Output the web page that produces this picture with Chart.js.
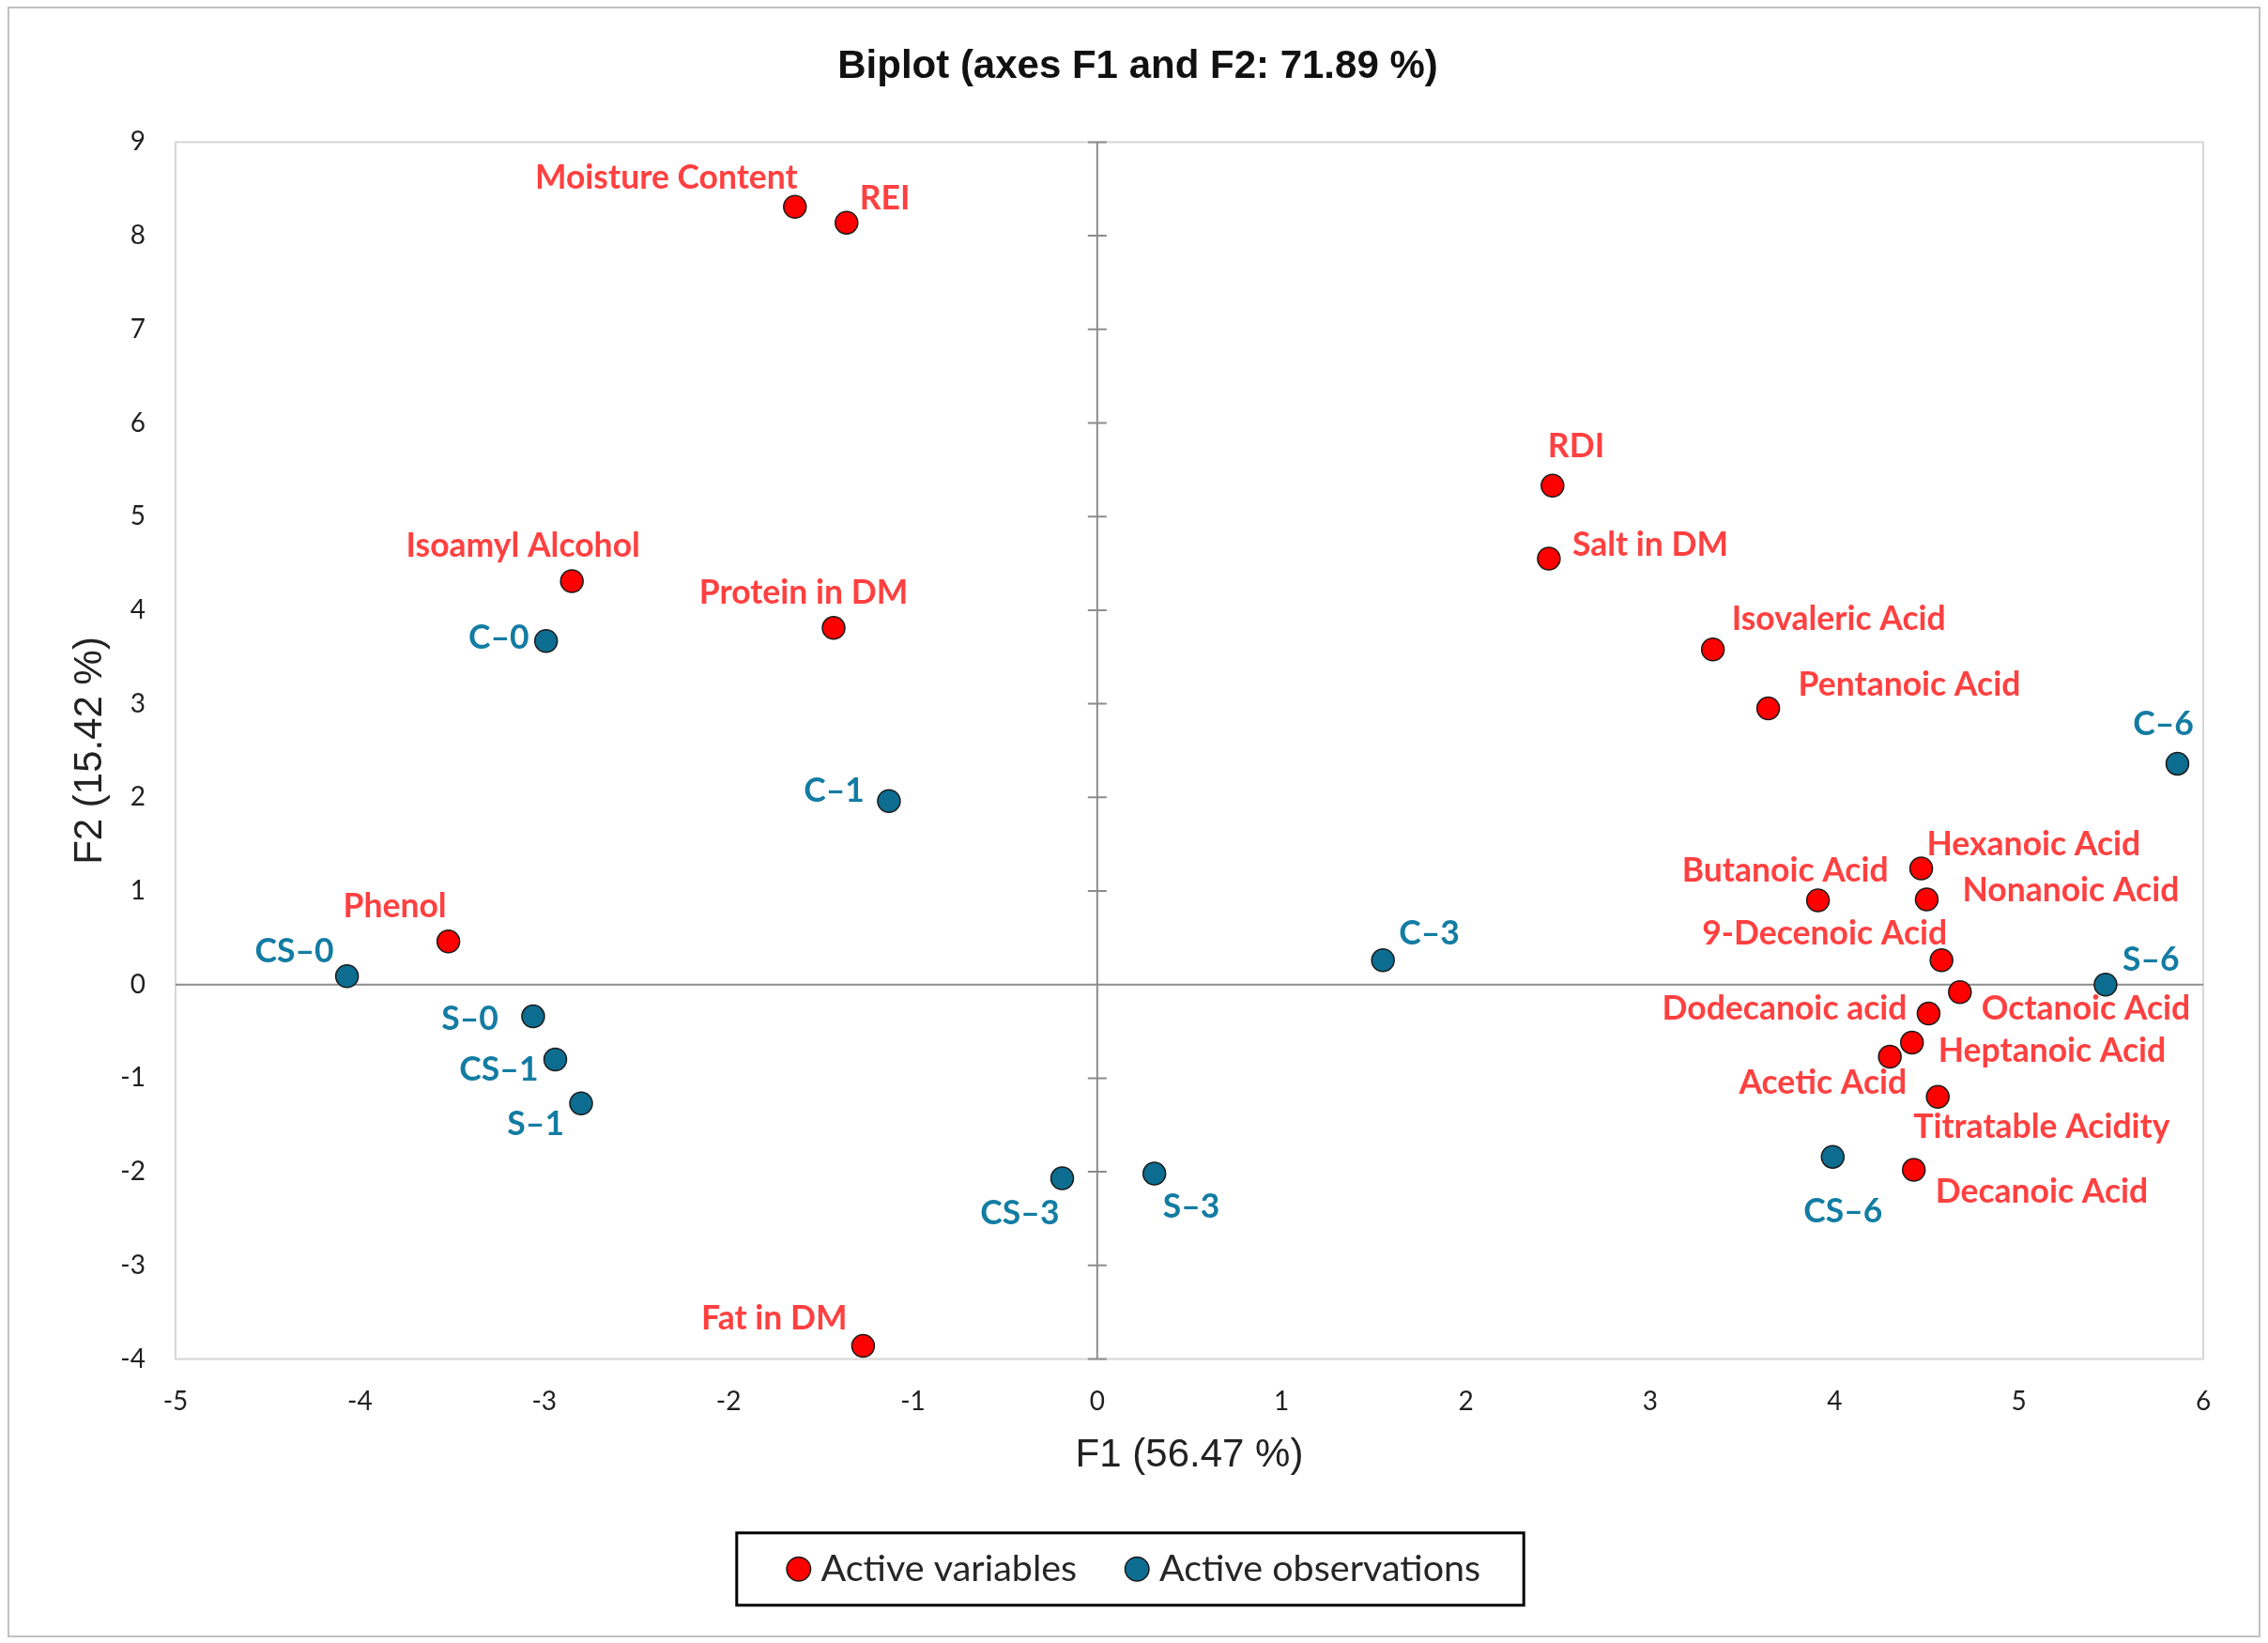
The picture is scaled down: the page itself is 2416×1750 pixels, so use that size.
<!DOCTYPE html>
<html><head><meta charset="utf-8">
<script src="https://cdn.jsdelivr.net/npm/chart.js@4.4.1/dist/chart.umd.min.js"></script>
<style>html,body{margin:0;padding:0;background:#fff;}#wrap{width:2416px;height:1750px;}</style>
</head><body><div id="wrap"><canvas id="c" width="2416" height="1750"></canvas></div>
<script>
// ---- data ----
const chartTitle = 'Biplot (axes F1 and F2: 71.89 %)';
const xAxisTitle = 'F1 (56.47 %)';
const yAxisTitle = 'F2 (15.42 %)';
const seriesNames = ['Active variables', 'Active observations'];
const xTickValues = [-5, -4, -3, -2, -1, 0, 1, 2, 3, 4, 5, 6];
const yTickValues = [-4, -3, -2, -1, 0, 1, 2, 3, 4, 5, 6, 7, 8, 9];

const variableNames = ['Moisture Content', 'REI', 'Isoamyl Alcohol', 'Protein in DM', 'Phenol', 'Fat in DM',
  'RDI', 'Salt in DM', 'Isovaleric Acid', 'Pentanoic Acid', 'Hexanoic Acid', 'Butanoic Acid', 'Nonanoic Acid',
  '9-Decenoic Acid', 'Octanoic Acid', 'Dodecanoic acid', 'Heptanoic Acid', 'Acetic Acid', 'Titratable Acidity', 'Decanoic Acid'];
const variableF1 = [-1.64, -1.36, -2.85, -1.43, -3.52, -1.27, 2.47, 2.45, 3.34, 3.64, 4.47, 3.91, 4.50, 4.58, 4.68, 4.51, 4.42, 4.30, 4.56, 4.43];
const variableF2 = [8.31, 8.14, 4.31, 3.81, 0.46, -3.86, 5.33, 4.55, 3.58, 2.95, 1.24, 0.90, 0.91, 0.26, -0.08, -0.31, -0.62, -0.77, -1.20, -1.98];

const observationNames = ['C\u20130', 'C\u20131', 'CS\u20130', 'S\u20130', 'CS\u20131', 'S\u20131', 'CS\u20133', 'S\u20133', 'C\u20133', 'CS\u20136', 'S\u20136', 'C\u20136'];
const observationF1 = [-2.99, -1.13, -4.07, -3.06, -2.94, -2.80, -0.19, 0.31, 1.55, 3.99, 5.47, 5.86];
const observationF2 = [3.67, 1.96, 0.09, -0.34, -0.80, -1.27, -2.07, -2.02, 0.26, -1.84, 0.00, 2.36];

// ---- label placement (style only: anchor, dx, dy in px) ----
const variableLabelPlacement = [
  ['right', 3, -31], ['left', 14, -26], ['center', -52, -37], ['center', -32, -37], ['center', -57, -37], ['right', -17, -29],
  ['left', -5, -42], ['left', 25, -15], ['left', 20, -32], ['left', 32, -25], ['left', 6, -26], ['right', 75, -31], ['left', 38, -9],
  ['right', 6, -28], ['left', 23, 18], ['right', -23, -5], ['left', 28, 9], ['right', 18, 28], ['left', -26, 32], ['left', 23, 23]
];
const observationLabelPlacement = [
  ['right', -18, -3], ['right', -26, -11], ['right', -14, -26], ['right', -37, 3], ['right', -18, 11], ['right', -18, 22],
  ['right', -3, 37], ['left', 9, 35], ['left', 17, -28], ['center', 11, 58], ['left', 18, -26], ['center', -15, -42]
];

const RED = '#FF0000', RED_TEXT = '#FF4040';
const BLUE = '#0C6D90', BLUE_TEXT = '#137CA2';
const LABEL_FONT = 'bold 35.5px Lato';

const frameAndBackground = {
  id: 'frameAndBackground',
  beforeDraw(chart) {
    const ctx = chart.ctx;
    ctx.save();
    ctx.fillStyle = '#fff';
    ctx.fillRect(0, 0, chart.width, chart.height);
    ctx.strokeStyle = '#C0C0C0';
    ctx.lineWidth = 2;
    ctx.strokeRect(9, 8, 2398, 1735);
    ctx.restore();
  },
  beforeDatasetsDraw(chart) {
    const {ctx, chartArea: a, scales: {x, y}} = chart;
    ctx.save();
    ctx.strokeStyle = '#D6D6D6';
    ctx.lineWidth = 2;
    ctx.strokeRect(a.left, a.top, a.right - a.left, a.bottom - a.top);
    const x0 = x.getPixelForValue(0), y0 = y.getPixelForValue(0);
    ctx.strokeStyle = '#8C8C8C';
    ctx.lineWidth = 2;
    ctx.beginPath();
    ctx.moveTo(x0, a.top); ctx.lineTo(x0, a.bottom);
    ctx.moveTo(a.left, y0); ctx.lineTo(a.right, y0);
    yTickValues.forEach(v => {
      const py = y.getPixelForValue(v);
      ctx.moveTo(x0 - 10, py); ctx.lineTo(x0 + 10, py);
    });
    ctx.stroke();
    ctx.restore();
  },
  afterDatasetsDraw(chart) {
    const ctx = chart.ctx;
    ctx.save();
    ctx.font = LABEL_FONT;
    ctx.textBaseline = 'middle';
    const sets = [[variableNames, variableLabelPlacement, RED_TEXT], [observationNames, observationLabelPlacement, BLUE_TEXT]];
    sets.forEach(([names, place, color], di) => {
      const meta = chart.getDatasetMeta(di);
      ctx.fillStyle = color;
      meta.data.forEach((pt, i) => {
        const [anchor, dx, dy] = place[i];
        ctx.textAlign = anchor === 'left' ? 'left' : anchor === 'right' ? 'right' : 'center';
        ctx.fillText(names[i], pt.x + dx, pt.y + dy);
      });
    });
    ctx.restore();
  },
  afterDraw(chart) {
    const lg = chart.legend;
    if (!lg || !lg.legendHitBoxes.length) return;
    const hb = lg.legendHitBoxes;
    const left = Math.min(...hb.map(h => h.left)) - 62;
    const right = Math.max(...hb.map(h => h.left + h.width)) + 46;
    const cy = hb[0].top + hb[0].height / 2;
    const ctx = chart.ctx;
    ctx.save();
    ctx.strokeStyle = '#000';
    ctx.lineWidth = 3;
    ctx.strokeRect(left, cy - 38.5, right - left, 77);
    ctx.restore();
  }
};

new Chart(document.getElementById('c'), {
  type: 'scatter',
  data: {
    datasets: [
      {
        label: seriesNames[0],
        data: variableF1.map((v, i) => ({x: v, y: variableF2[i]})),
        backgroundColor: RED, borderColor: '#1a1a1a',
        pointRadius: 12, pointHoverRadius: 12, pointBorderWidth: 1.5
      },
      {
        label: seriesNames[1],
        data: observationF1.map((v, i) => ({x: v, y: observationF2[i]})),
        backgroundColor: BLUE, borderColor: '#1a1a1a',
        pointRadius: 12, pointHoverRadius: 12, pointBorderWidth: 1.5
      }
    ]
  },
  options: {
    responsive: false,
    devicePixelRatio: 1,
    animation: false,
    events: [],
    layout: {padding: {left: 8, right: 0, top: 0, bottom: 49}},
    plugins: {
      tooltip: {enabled: false},
      title: {
        display: true, text: chartTitle, color: '#111',
        font: {family: '"Liberation Sans", Arial, sans-serif', weight: 'bold', size: 42},
        padding: {top: 46, bottom: 55}
      },
      legend: {
        position: 'bottom',
        labels: {
          usePointStyle: true, pointStyle: 'circle', boxWidth: 8, boxHeight: 18,
          padding: 60, color: '#262626',
          font: {family: 'Lato', size: 39.5}
        }
      }
    },
    scales: {
      x: {
        type: 'linear', min: xTickValues[0], max: xTickValues[xTickValues.length - 1],
        afterBuildTicks: s => { s.ticks = xTickValues.map(v => ({value: v})); },
        ticks: {color: '#1f1f1f', font: {family: 'Lato', size: 28}, padding: 29, maxRotation: 0},
        grid: {display: false, drawTicks: false},
        border: {display: false},
        title: {display: true, text: xAxisTitle, color: '#222',
          font: {family: '"Liberation Sans", Arial, sans-serif', size: 42}, padding: {top: 0, bottom: 16}},
        afterFit: s => { s.height = 144; }
      },
      y: {
        type: 'linear', min: yTickValues[0], max: yTickValues[yTickValues.length - 1],
        afterBuildTicks: s => { s.ticks = yTickValues.map(v => ({value: v})); },
        ticks: {color: '#1f1f1f', font: {family: 'Lato', size: 28}, padding: 32},
        grid: {display: false, drawTicks: false},
        border: {display: false},
        title: {display: true, text: yAxisTitle, color: '#222',
          font: {family: '"Liberation Sans", Arial, sans-serif', size: 42}, padding: {top: 63, bottom: 0}},
        afterFit: s => { s.width = 179; }
      },
      yRight: {
        position: 'right', display: true,
        ticks: {display: false}, grid: {display: false, drawTicks: false}, border: {display: false},
        afterFit: s => { s.width = 69; }
      }
    }
  },
  plugins: [frameAndBackground]
});
</script>
</body></html>
